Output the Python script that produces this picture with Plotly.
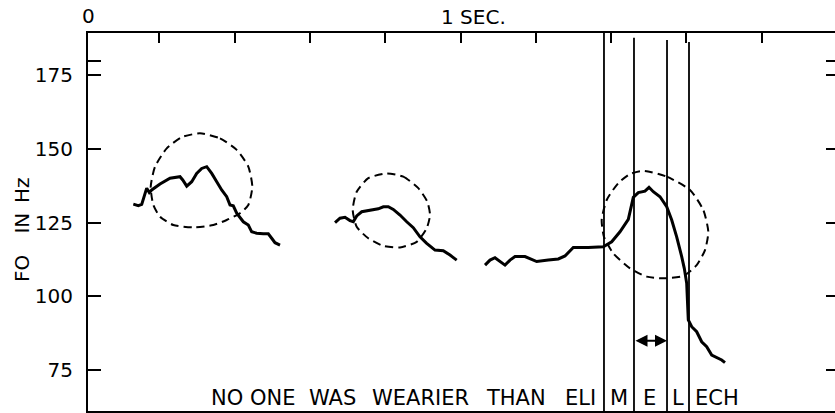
import plotly.graph_objects as go

# ---------------- data (time in seconds, F0 in Hz) ----------------
c1_t = [0.1309, 0.1442, 0.1533, 0.1594, 0.1665, 0.1734, 0.1798, 0.2019, 0.2284, 0.2550,
        0.2622, 0.2728, 0.2861, 0.2993, 0.3126, 0.3259, 0.3392, 0.3525, 0.3657, 0.3790,
        0.3878, 0.3965, 0.4056, 0.4231, 0.4364, 0.4454, 0.4587, 0.4762, 0.4895, 0.4985,
        0.5073, 0.5206]
c1_f = [131.3, 130.8, 131.2, 133.8, 136.7, 135.2, 136.1, 138.1, 140.1, 140.6,
        139.5, 137.4, 138.9, 141.7, 143.4, 144.0, 141.7, 138.9, 136.1, 133.8,
        131.0, 130.7, 128.2, 125.3, 124.2, 121.9, 121.4, 121.2, 121.2, 119.7,
        118.2, 117.4]

c2_t = [0.6667, 0.6799, 0.6932, 0.7065, 0.7153, 0.7243, 0.7376, 0.7509, 0.7641, 0.7817,
        0.7950, 0.8082, 0.8215, 0.8393, 0.8571, 0.8746, 0.8924, 0.9102, 0.9323, 0.9543,
        0.9721, 0.9899]
c2_f = [125.0, 126.5, 126.8, 125.7, 125.3, 127.3, 128.7, 129.0, 129.5, 129.7,
        130.4, 130.4, 129.5, 127.6, 125.3, 123.3, 120.2, 118.0, 115.7, 115.5,
        114.0, 112.3]

c3_t = [1.0651, 1.0784, 1.0916, 1.1049, 1.1182, 1.1315, 1.1448, 1.1713, 1.1891, 1.2024,
        1.2332, 1.2598, 1.2776, 1.2996, 1.3394, 1.3793, 1.4016, 1.4236, 1.4457, 1.4529,
        1.4590, 1.4722, 1.4900, 1.5007, 1.5121, 1.5299, 1.5477, 1.5610, 1.5742, 1.5875,
        1.5944, 1.6008, 1.6024, 1.6050, 1.6141, 1.6273, 1.6406, 1.6539, 1.6672, 1.6805,
        1.6937, 1.7025]
c3_f = [110.6, 112.3, 113.1, 111.8, 110.6, 112.3, 113.5, 113.5, 112.6, 111.8,
        112.3, 112.7, 113.7, 116.6, 116.6, 116.8, 118.5, 121.9, 126.1, 130.4,
        133.6, 135.2, 135.7, 137.0, 135.5, 133.8, 130.4, 125.9, 120.2, 113.5,
        109.5, 104.4, 99.9, 92.0, 89.7, 88.0, 84.6, 82.9, 80.1, 79.3,
        78.4, 77.5]

e1_t = [0.3081, 0.3612, 0.4056, 0.4364, 0.4470, 0.4364, 0.4143, 0.3790, 0.3434, 0.2903,
        0.2372, 0.2019, 0.1841, 0.1772, 0.1886, 0.2197, 0.2595, 0.3081]
e1_f = [155.3, 153.6, 149.7, 144.0, 137.2, 131.0, 128.2, 125.9, 124.2, 123.4,
        124.2, 127.0, 131.0, 137.2, 144.0, 150.2, 154.0, 155.3]

e2_t = [0.8040, 0.8481, 0.8879, 0.9118, 0.9190, 0.9102, 0.8837, 0.8393, 0.7950, 0.7551,
        0.7243, 0.7137, 0.7243, 0.7551, 0.8040]
e2_f = [141.7, 140.6, 136.7, 132.1, 127.6, 123.1, 118.5, 116.6, 117.1, 119.7,
        123.6, 129.3, 135.5, 140.1, 141.7]

e3_t = [1.4855, 1.5477, 1.6096, 1.6449, 1.6582, 1.6494, 1.6273, 1.5918, 1.5386, 1.4946,
        1.4502, 1.4058, 1.3811, 1.3750, 1.3883, 1.4191, 1.4502, 1.4855]
e3_f = [142.6, 140.6, 136.1, 129.3, 121.9, 115.7, 110.6, 106.9, 106.1, 106.7,
        109.5, 114.6, 120.2, 125.9, 132.7, 138.4, 141.5, 142.6]

seg_bounds = [1.3811, 1.4608, 1.5485, 1.6069]     # vertical segment lines (s)
seg_tops = [189.35, 187.7, 187.0, 186.3]          # upper ends of those lines (Hz)
arrow_f = 84.9                                    # height of the E-duration arrow (Hz)

words = ["NO", "ONE", "WAS", "WEARIER", "THAN", "ELI", "M", "E", "L", "ECH"]
word_t = [0.3785, 0.5007, 0.6600, 0.8938, 1.1487, 1.3187, 1.4202, 1.5033, 1.5764, 1.6818]
word_f = 65.5

x_ticks = [0.2, 0.4, 0.6, 0.8, 1.0, 1.2, 1.4, 1.6, 1.8]
y_ticks = [75, 100, 125, 150, 175, 180]
y_labels = ["75", "100", "125", "150", "175", ""]

x_range = [0.0106, 1.9947]
y_range = [61.1, 189.35]

FONT = "DejaVu Sans"

# ---------------- figure ----------------
fig = go.Figure()
for tt, ff in [(c1_t, c1_f), (c2_t, c2_f), (c3_t, c3_f)]:
    fig.add_trace(go.Scatter(x=tt, y=ff, mode="lines",
                             line=dict(color="black", width=3), showlegend=False,
                             hoverinfo="skip"))
for tt, ff in [(e1_t, e1_f), (e2_t, e2_f), (e3_t, e3_f)]:
    fig.add_trace(go.Scatter(x=tt, y=ff, mode="lines",
                             line=dict(color="black", width=2, dash="8px,5px",
                                       shape="spline", smoothing=0.6),
                             showlegend=False, hoverinfo="skip"))
# invisible trace to activate the right-hand tick axis
fig.add_trace(go.Scatter(x=[1.0], y=[100], yaxis="y2", mode="markers",
                         marker=dict(opacity=0), showlegend=False, hoverinfo="skip"))

for b, top in zip(seg_bounds, seg_tops):
    fig.add_shape(type="line", xref="x", yref="y", x0=b, x1=b, y0=y_range[0], y1=top,
                  line=dict(color="black", width=1.8))

fig.add_annotation(x=seg_bounds[2], y=arrow_f, ax=seg_bounds[1], ay=arrow_f,
                   xref="x", yref="y", axref="x", ayref="y", text="",
                   showarrow=True, arrowside="end+start", arrowhead=2,
                   arrowsize=1.2, arrowwidth=2, arrowcolor="black", standoff=0,
                   startstandoff=0)

for w, t in zip(words, word_t):
    fig.add_annotation(x=t, y=word_f, xref="x", yref="y", text=w, showarrow=False,
                       xanchor="center", yanchor="middle", borderpad=0,
                       font=dict(family=FONT, size=21, color="black"))

# top labels
fig.add_annotation(x=0, y=1.044, xref="paper", yref="paper", text="0", showarrow=False,
                   xanchor="center", yanchor="middle", font=dict(family=FONT, size=20, color="black"))
fig.add_annotation(x=1.034, y=1.042, xref="x", yref="paper", text="1 SEC.", showarrow=False,
                   xanchor="center", yanchor="middle", font=dict(family=FONT, size=20, color="black"))

# rotated axis title words
for w, yp in [("Hz", 0.586), ("IN", 0.497), ("FO", 0.377)]:
    fig.add_annotation(x=-0.0877, y=yp, xref="paper", yref="paper", text=w, showarrow=False,
                       textangle=-90, xanchor="center", yanchor="middle",
                       font=dict(family=FONT, size=20, color="black"))

fig.update_layout(
    width=835, height=413,
    margin=dict(l=88, r=0, t=33, b=2),
    paper_bgcolor="white", plot_bgcolor="white",
    xaxis=dict(range=x_range, side="top", showline=True, linecolor="black", linewidth=2,
               mirror=True, ticks="inside", ticklen=10, tickwidth=2, tickcolor="black",
               tickvals=x_ticks, showticklabels=False, showgrid=False, zeroline=False,
               fixedrange=True),
    yaxis=dict(range=y_range, showline=True, linecolor="black", linewidth=2,
               ticks="inside", ticklen=13, tickwidth=2, tickcolor="black",
               tickvals=y_ticks, ticktext=y_labels, ticklabelstandoff=9,
               tickfont=dict(family=FONT, size=20, color="black"),
               showgrid=False, zeroline=False, fixedrange=True),
    yaxis2=dict(range=y_range, overlaying="y", side="right", showline=False,
                ticks="inside", ticklen=9, tickwidth=2, tickcolor="black",
                tickvals=y_ticks, showticklabels=False, showgrid=False, zeroline=False,
                fixedrange=True),
    showlegend=False,
)

fig.write_html("out.html")
